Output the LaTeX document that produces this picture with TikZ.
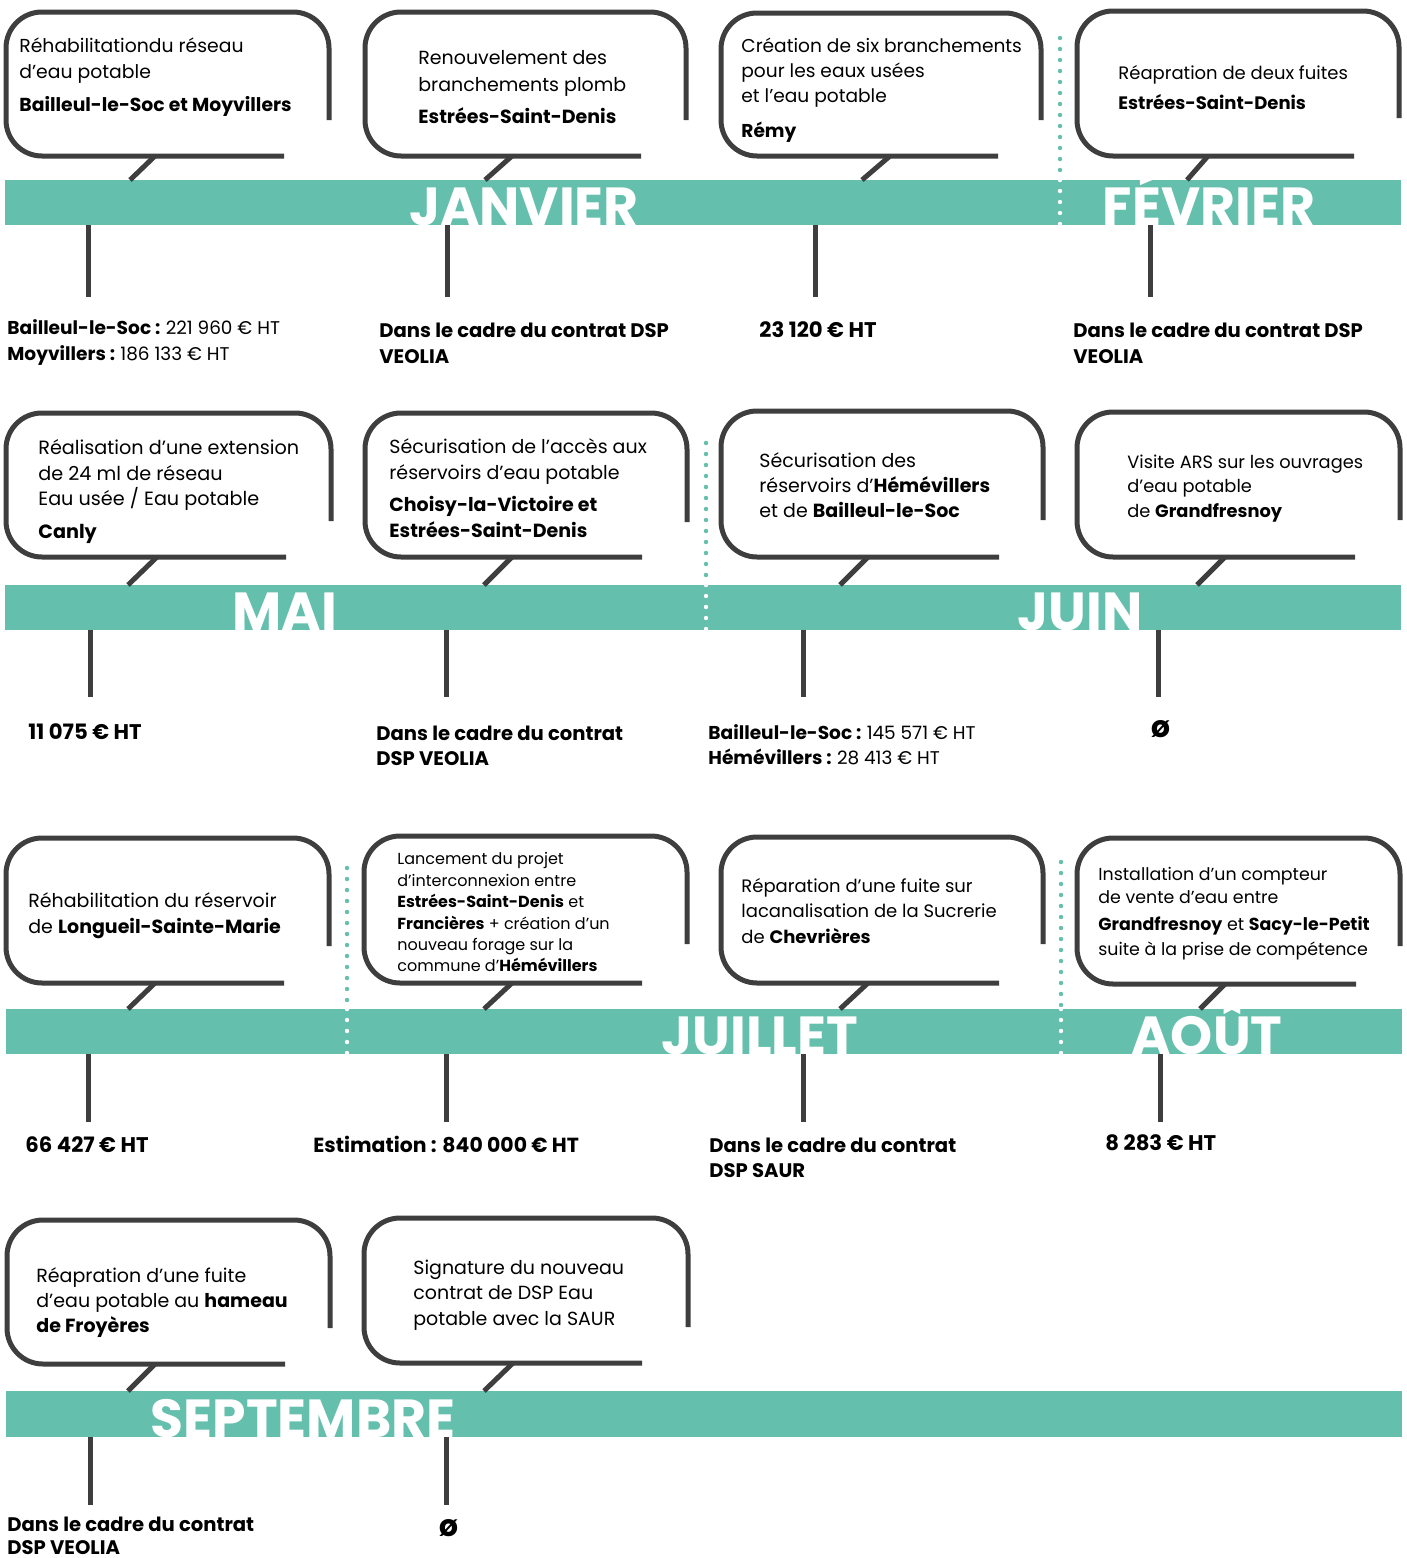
\documentclass[tikz,border=0pt]{standalone}
\usepackage{fontspec}
\setmainfont{Poppins}
\definecolor{barteal}{RGB}{100,191,173}
\definecolor{ink}{RGB}{62,62,62}
\newcommand\bubble[6]{\draw[bub] (#2,#5) -- (#2,#3) -- (#1,#3) -- (#1,#4) -- (#6,#4);}
\newcommand\fs[1]{\fontsize{#1}{#1}\selectfont}
\begin{document}
\begin{tikzpicture}[x=0.5pt,y=-0.5pt,
  bub/.style={line width=2.5pt, draw=ink, rounded corners=18pt},
  stem/.style={line width=2.5pt, draw=ink},
  barfill/.style={fill=barteal, draw=none},
  month/.style={text=white, font=\bfseries\fs{26.8}, anchor=base, inner sep=0pt},
  body/.style={anchor=base west, inner sep=0pt, font=\fs{9.4}},
  lab/.style={anchor=base west, inner sep=0pt, font=\bfseries\fs{9.8}},
  num/.style={anchor=base west, inner sep=0pt, font=\bfseries\fs{10.6}},
  dotsT/.style={line width=2.2pt, line cap=round, dash pattern=on 0pt off 5.5pt, draw=barteal},
  dotsW/.style={line width=2.2pt, line cap=round, dash pattern=on 0pt off 5.5pt, draw=white}]
\useasboundingbox (0,0) rectangle (1407,1558);
% ---------------- bars
\fill[barfill] (5,180) rectangle (1401,225);
\fill[barfill] (5,585) rectangle (1401,630);
\fill[barfill] (6,1009) rectangle (1402,1054);
\fill[barfill] (6,1391) rectangle (1402,1437);
% ---------------- dotted separators
\coordinate (d1a) at (1060,38);  \coordinate (d1b) at (1060,180); \coordinate (d1c) at (1060,225);
\coordinate (d2a) at (706,443);  \coordinate (d2b) at (706,585);  \coordinate (d2c) at (706,630);
\coordinate (d3a) at (347,868);  \coordinate (d3b) at (347,1009); \coordinate (d3c) at (347,1054);
\coordinate (d4a) at (1061,862); \coordinate (d4b) at (1061,1009);\coordinate (d4c) at (1061,1054);
\foreach \p in {d1,d2,d3,d4}{\draw[dotsT] (\p a) -- (\p b); \draw[dotsW] (\p b) -- (\p c);}
% ---------------- month names
\node[month] (jan) at (524,225) {JANVIER};
\node[month] (feb) at (1209,225) {FÉVRIER};
\node[month] (mai) at (285,630) {MAI};
\node[month] (jun) at (1080,630) {JUIN};
\node[month] (jul) at (760,1054) {JUILLET};
\node[month] (aou) at (1207,1054) {AOÛT};
\node[month] (sep) at (303,1437) {SEPTEMBRE};
% ---------------- bubbles row 1
\bubble{6}{329}{12}{156}{120}{284}
\bubble{365}{686}{12}{156}{120}{641}
\bubble{721}{1041}{13}{156}{120}{998}
\bubble{1077}{1399}{11}{156}{118}{1354}
\draw[stem] (155,156) -- (130,180);
\draw[stem] (512,156) -- (485,180);
\draw[stem] (890,156) -- (862,180);
\draw[stem] (1208,156) -- (1187,180);
\draw[stem] (88,225) -- (88,297);
\draw[stem] (447,225) -- (447,297);
\draw[stem] (815,225) -- (815,297);
\draw[stem] (1150,225) -- (1150,297);
% ---------------- bubbles row 2
\bubble{6}{331}{413}{557}{521}{286}
\bubble{365}{687}{413}{557}{522}{642}
\bubble{721}{1043}{411}{557}{520}{999}
\bubble{1077}{1400}{412}{557}{520}{1355}
\draw[stem] (157,557) -- (128,585);
\draw[stem] (512,557) -- (484,585);
\draw[stem] (868,557) -- (840,585);
\draw[stem] (1225,557) -- (1197,585);
\draw[stem] (90,630) -- (90,697);
\draw[stem] (446,630) -- (446,697);
\draw[stem] (803,630) -- (803,697);
\draw[stem] (1158,630) -- (1158,697);
% ---------------- bubbles row 3
\bubble{6}{329}{838}{983}{946}{284}
\bubble{364}{687}{836}{983}{944}{642}
\bubble{721}{1043}{837}{983}{944}{999}
\bubble{1077}{1400}{838}{984}{946}{1356}
\draw[stem] (155,983) -- (128,1009);
\draw[stem] (512,983) -- (484,1009);
\draw[stem] (868,983) -- (840,1009);
\draw[stem] (1225,984) -- (1200,1009);
\draw[stem] (88,1054) -- (88,1122);
\draw[stem] (446,1054) -- (446,1122);
\draw[stem] (803,1054) -- (803,1122);
\draw[stem] (1160,1054) -- (1160,1122);
% ---------------- bubbles row 4
\bubble{7}{330}{1220}{1364}{1328}{285}
\bubble{364}{688}{1218}{1363}{1327}{642}
\draw[stem] (155,1364) -- (128,1391);
\draw[stem] (513,1363) -- (484,1391);
\draw[stem] (90,1437) -- (90,1505);
\draw[stem] (446,1437) -- (446,1505);
% ---------------- texts row 1
\begin{scope}[body/.append style={font=\fs{9.4}}]
\node[body] (a1) at (19,52) {Réhabilitationdu réseau};
\node[body] (a2) at (19,78) {d’eau potable};
\node[body] (a3) at (19,111) {\bfseries Bailleul-le-Soc et Moyvillers};
\end{scope}
\begin{scope}[body/.append style={font=\fs{9.5}}]
\node[body] (b1) at (418,64) {Renouvelement des};
\node[body] (b2) at (418,91) {branchements plomb};
\node[body] (b3) at (418,123) {\bfseries Estrées-Saint-Denis};
\end{scope}
\begin{scope}[body/.append style={font=\fs{9.3}}]
\node[body] (c1) at (741,52) {Création de six branchements};
\node[body] (c2) at (741,77) {pour les eaux usées};
\node[body] (c3) at (741,102) {et l’eau potable};
\node[body] (c4) at (741,137) {\bfseries Rémy};
\end{scope}
\begin{scope}[body/.append style={font=\fs{9.0}}]
\node[body] (d1) at (1118,79) {Réapration de deux fuites};
\node[body] (d2) at (1118,109) {\bfseries Estrées-Saint-Denis};
\end{scope}
% ---------------- texts row 2
\begin{scope}[body/.append style={font=\fs{9.6}}]
\node[body] (e1) at (38,454) {Réalisation d’une extension};
\node[body] (e2) at (38,480) {de 24 ml de réseau};
\node[body] (e3) at (38,505) {Eau usée / Eau potable};
\node[body] (e4) at (38,538) {\bfseries Canly};
\end{scope}
\begin{scope}[body/.append style={font=\fs{9.5}}]
\node[body] (f1) at (389,453) {Sécurisation de l’accès aux};
\node[body] (f2) at (389,479) {réservoirs d’eau potable};
\node[body] (f3) at (389,511) {\bfseries Choisy-la-Victoire et};
\node[body] (f4) at (389,537) {\bfseries Estrées-Saint-Denis};
\node[body] (g1) at (759,467) {Sécurisation des};
\node[body] (g2) at (759,492) {réservoirs d’\textbf{Hémévillers}};
\node[body] (g3) at (759,517) {et de \textbf{Bailleul-le-Soc}};
\end{scope}
\begin{scope}[body/.append style={font=\fs{8.9}}]
\node[body] (h1) at (1127,468) {Visite ARS sur les ouvrages};
\node[body] (h2) at (1127,492) {d’eau potable};
\node[body] (h3) at (1127,517) {de \textbf{Grandfresnoy}};
\end{scope}
% ---------------- texts row 3
\begin{scope}[body/.append style={font=\fs{9.5}}]
\node[body] (i1) at (28,907) {Réhabilitation du réservoir};
\node[body] (i2) at (28,933) {de \textbf{Longueil-Sainte-Marie}};
\end{scope}
\begin{scope}[body/.append style={font=\fs{8.0}}]
\node[body] (j1) at (397,864) {Lancement du projet};
\node[body] (j2) at (397,886) {d’interconnexion entre};
\node[body] (j3) at (397,907) {\textbf{Estrées-Saint-Denis} et};
\node[body] (j4) at (397,929) {\textbf{Francières} + création d’un};
\node[body] (j5) at (397,950) {nouveau forage sur la};
\node[body] (j6) at (397,971) {commune d’\textbf{Hémévillers}};
\end{scope}
\begin{scope}[body/.append style={font=\fs{9.0}}]
\node[body] (k1) at (741,892) {Réparation d’une fuite sur};
\node[body] (k2) at (741,917) {lacanalisation de la Sucrerie};
\node[body] (k3) at (741,943) {de \textbf{Chevrières}};
\end{scope}
\begin{scope}[body/.append style={font=\fs{8.7}}]
\node[body] (l1) at (1098,880) {Installation d’un compteur};
\node[body] (l2) at (1098,903) {de vente d’eau entre};
\node[body] (l3) at (1098,930) {\textbf{Grandfresnoy} et \textbf{Sacy-le-Petit}};
\node[body] (l4) at (1098,955) {suite à la prise de compétence};
\end{scope}
% ---------------- texts row 4
\begin{scope}[body/.append style={font=\fs{9.5}}]
\node[body] (m1) at (36,1282) {Réapration d’une fuite};
\node[body] (m2) at (36,1307) {d’eau potable au \textbf{hameau}};
\node[body] (m3) at (36,1332) {\bfseries de Froyères};
\node[body] (n1) at (413,1274) {Signature du nouveau};
\node[body] (n2) at (413,1299) {contrat de DSP Eau};
\node[body] (n3) at (413,1325) {potable avec la SAUR};
\end{scope}
% ---------------- labels below bars
\node[lab, font=\bfseries\fs{9.3}] (p1) at (7,334) {Bailleul-le-Soc : \mdseries\fs{9.2}221 960 € HT};
\node[lab, font=\bfseries\fs{9.3}] (p2) at (7,360) {Moyvillers : \mdseries\fs{9.2}186 133 € HT};
\node[lab] (q1) at (379,337) {Dans le cadre du contrat DSP};
\node[lab] (q2) at (379,363) {VEOLIA};
\node[num] (r1) at (759,337) {23 120 € HT};
\node[lab] (s1) at (1073,337) {Dans le cadre du contrat DSP};
\node[lab] (s2) at (1073,363) {VEOLIA};
\node[num] (t1) at (28,739) {11 075 € HT};
\node[lab] (u1) at (376,740) {Dans le cadre du contrat};
\node[lab] (u2) at (376,765) {DSP VEOLIA};
\node[lab, font=\bfseries\fs{9.3}] (v1) at (708,739) {Bailleul-le-Soc : \mdseries\fs{9.2}145 571 € HT};
\node[lab, font=\bfseries\fs{9.3}] (v2) at (708,764) {Hémévillers : \mdseries\fs{9.2}28 413 € HT};
\node[lab, font=\bfseries\fs{15}] (w1) at (1151,737) {ø};
\node[num] (x1) at (25,1152) {66 427 € HT};
\node[lab, font=\bfseries\fs{10.2}] (y1) at (313,1152) {Estimation : 840 000 € HT};
\node[lab] (z1) at (709,1152) {Dans le cadre du contrat};
\node[lab] (z2) at (709,1177) {DSP SAUR};
\node[num] (z3) at (1105,1150) {8 283 € HT};
\node[lab] (z4) at (7,1531) {Dans le cadre du contrat};
\node[lab] (z5) at (7,1554) {DSP VEOLIA};
\node[lab, font=\bfseries\fs{15}] (z6) at (439,1536) {ø};
\end{tikzpicture}
\end{document}
